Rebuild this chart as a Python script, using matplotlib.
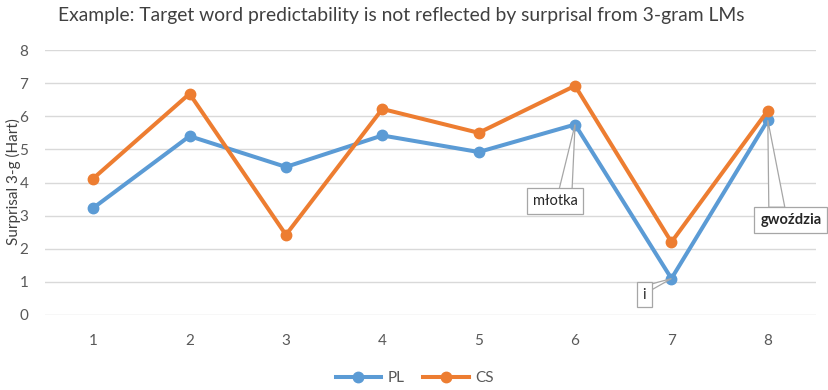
import matplotlib
matplotlib.use("Agg")
import matplotlib.pyplot as plt
from matplotlib.patches import Polygon
from matplotlib.transforms import IdentityTransform

plt.rcParams['font.family'] = ['Lato', 'DejaVu Sans']

positions = [1, 2, 3, 4, 5, 6, 7, 8]
pl_values = [3.23, 5.40, 4.47, 5.42, 4.92, 5.75, 1.10, 5.88]
cs_values = [4.12, 6.68, 2.42, 6.22, 5.50, 6.92, 2.20, 6.17]
series_names = ["PL", "CS"]
title = "Example: Target word predictability is not reflected by surprisal from 3-gram LMs"
ylabel = "Surprisal 3-g (Hart)"
callouts = [("młotka", 6, "normal"), ("i", 7, "normal"), ("gwoździa", 8, "bold")]

blue = "#5B9BD5"
orange = "#ED7D31"
grid_c = "#D9D9D9"
tick_c = "#595959"

fig = plt.figure(figsize=(8.29, 3.9), dpi=100)
ax = fig.add_axes([45/829, 1-315/390, (816-45)/829, (315-50)/390])

ax.plot(positions, pl_values, color=blue, lw=2.9, marker='o', ms=7.5, label=series_names[0], zorder=3)
ax.plot(positions, cs_values, color=orange, lw=2.9, marker='o', ms=7.5, label=series_names[1], zorder=3)

ax.set_xlim(0.5, 8.5)
ax.set_ylim(0, 8)
ax.set_yticks(range(0, 9))
ax.set_xticks(positions)
ax.grid(axis='y', color=grid_c, lw=1)
ax.set_axisbelow(True)
for s in ax.spines.values():
    s.set_visible(False)
ax.tick_params(axis='both', length=0, colors=tick_c, labelsize=11)
ax.tick_params(axis='y', pad=12)
ax.tick_params(axis='x', pad=14)

fig.text(401/829, 1-16/390, title, ha='center', va='center', fontsize=13.9, color='#404040')
fig.text(13/829, 1-182/390, ylabel, rotation=90, ha='center', va='center', fontsize=11, color='#404040')

fig.legend(loc='center', bbox_to_anchor=(0.5, 1-378/390), ncol=2, frameon=False,
           fontsize=11, handlelength=3, columnspacing=1.2, handletextpad=0.4, labelcolor=tick_c)

# callout geometry in pixel offsets from data point (x right, y down)
geom = {
    "młotka": dict(center=(-20, 76.5), wedge=[(-16, 65), (-3, 65)]),
    "i": dict(center=(-27, 16), wedge=[(-22, 6), (-21, 12)]),
    "gwoździa": dict(center=(23, 100), wedge=[(1, 87), (17, 87)]),
}
fig.canvas.draw()
for text, xpos, weight in callouts:
    yv = pl_values[positions.index(xpos)]
    px, py = ax.transData.transform((xpos, yv))
    g = geom[text]
    verts = [(px, py)] + [(px + dx, py - dy) for dx, dy in g['wedge']]
    poly = Polygon(verts, closed=True, fc='white', ec='#A6A6A6', lw=0.9,
                   transform=IdentityTransform(), zorder=4)
    fig.add_artist(poly)
    cx, cy = px + g['center'][0], py - g['center'][1]
    fig.text(cx / fig.bbox.width, cy / fig.bbox.height, text, ha='center', va='center',
             fontsize=10.5, fontweight=weight, color='#262626', zorder=5,
             bbox=dict(boxstyle='square,pad=0.4', fc='white', ec='#A6A6A6', lw=0.9))

fig.savefig("out.png", dpi=100)
